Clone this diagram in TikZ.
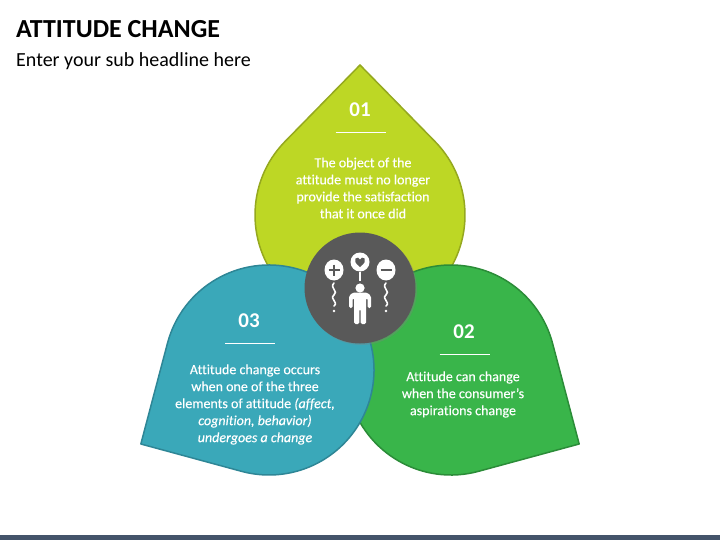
\documentclass[tikz,border=0pt]{standalone}
\usepackage{fontspec}
\setmainfont[Ligatures=NoCommon]{Carlito}
\newfontfamily\bodyfont[Ligatures=NoCommon,FakeBold=0.25]{Carlito}
\usetikzlibrary{shadows}
\definecolor{limefill}{HTML}{BDD725}
\definecolor{limeline}{HTML}{95A81F}
\definecolor{greenfill}{HTML}{39B54A}
\definecolor{greenline}{HTML}{2B8C38}
\definecolor{tealfill}{HTML}{3AA8B9}
\definecolor{tealline}{HTML}{2E8696}
\definecolor{hubgray}{HTML}{595959}
\definecolor{barblue}{HTML}{44546A}
\tikzset{
    numlabel/.style={text=white,font=\fontsize{21}{22}\selectfont\bfseries,inner sep=0},
    bodytext/.style={text=white,align=center,font=\fontsize{14}{17}\selectfont\bodyfont,inner sep=0},
    rule/.style={draw=white,line width=.7pt},
    icon/.style={fill=white,draw=none},
    string/.style={draw=white,line width=1.6pt,line cap=round}
}
\begin{document}
\begin{tikzpicture}[x=1pt,y=-1pt]
\useasboundingbox (0,0) rectangle (720,540);
\fill[barblue] (0,535) rectangle (720,540);
\node[anchor=west,inner sep=0,font=\fontsize{26}{28}\selectfont\bfseries] at (16,29)(title){ATTITUDE CHANGE};
\node[anchor=west,inner sep=0,font=\fontsize{20}{24}\selectfont] at (16,61)(subtitle){Enter your sub headline here};

% petals, last one on top
\foreach \f/\l/\cx/\cy/\a/\d/\t in {limefill/limeline/360/215/270/150/45.6, greenfill/greenline/451/370/30/148/44.8, tealfill/tealline/269/370/150/148/44.8}{
    \draw[fill=\f,draw=\l,line width=1.5pt,line join=round] ([shift={(\cx,\cy)}]\a+\t:105) arc[start angle=\a+\t,end angle=\a+360-\t,radius=105] -- ([shift={(\cx,\cy)}]\a:\d) -- cycle;
}

\node[numlabel] at (360,110)(num1){01};
\node[numlabel] at (464,332)(num2){02};
\node[numlabel] at (249,321)(num3){03};
\foreach \xa/\xb/\y in {335.5/386/132, 439.5/490/354, 225/275/343.5}{
    \draw[rule] (\xa,\y) -- (\xb,\y);
}
\node[bodytext] at (363,188)(text1){The object of the\\attitude must no longer\\provide the satisfaction\\that it once did};
\node[bodytext] at (463,394.5)(text2){Attitude can change\\when the consumer’s\\aspirations change};
\node[bodytext] at (255,404.5)(text3){Attitude change occurs\\when one of the three\\elements of attitude \textit{(affect,}\\\textit{cognition, behavior)}\\\textit{undergoes a change}};

% hub and icon
\node[circle,fill=hubgray,minimum size=111pt,inner sep=0,drop shadow={shadow xshift=1.5pt,shadow yshift=-1.5pt,opacity=.35}] at (360,288)(hub){};
\foreach \x in {334,386}{
    \fill[icon] (\x,270) ellipse[x radius=9.5,y radius=10.5];
    \draw[string] (\x,283) .. controls (\x-5,288) and (\x+5,291) .. (\x,295) .. controls (\x-5,299) and (\x+5,302) .. (\x,306);
    \fill[icon] (\x,311) circle (1.4);
}
\draw[hubgray,line width=1.6pt] (328.5,270) -- (339.5,270) (334,264.5) -- (334,275.5);
\draw[hubgray,line width=1.6pt] (380.5,270) -- (391.5,270);
\fill[icon] (360,262) circle (9.5);
\draw[white,line width=1.3pt] (360,272) -- (360,281);
\fill[hubgray] (360,267) .. controls (355,263) and (354,260.5) .. (355.5,258.5) .. controls (357,257) and (359,257.5) .. (360,259.5) .. controls (361,257.5) and (363,257) .. (364.5,258.5) .. controls (366,260.5) and (365,263) .. (360,267) -- cycle;
\fill[icon] (360,288) circle (4.6);
\fill[icon,rounded corners=1.5pt] (349,308) -- (349,296) -- (353,292.5) -- (367,292.5) -- (371,296) -- (371,308) -- (367.5,308) -- (367.5,298) -- (366,298) -- (366,324) -- (360.6,324) -- (360.6,309) -- (359.4,309) -- (359.4,324) -- (354,324) -- (354,298) -- (352.5,298) -- (352.5,308) -- cycle;
\end{tikzpicture}
\end{document}
